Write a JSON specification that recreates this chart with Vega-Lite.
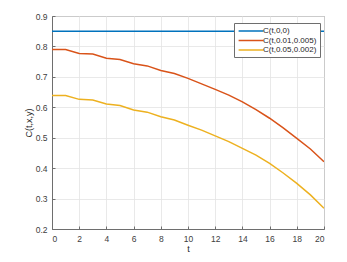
{
  "$schema": "https://vega.github.io/schema/vega-lite/v6.json",
  "width": 272,
  "height": 213,
  "autosize": {"type": "none"},
  "padding": {"left": 52, "top": 16, "right": 23, "bottom": 33},
  "background": "white",
  "config": {
    "font": "Liberation Sans",
    "view": {"stroke": "#6e6e6e", "strokeWidth": 1},
    "axis": {
      "labelFont": "Liberation Sans",
      "titleFont": "Liberation Sans",
      "labelFontSize": 8.5,
      "titleFontSize": 9,
      "labelColor": "#404040",
      "titleColor": "#262626",
      "titleFontWeight": "normal",
      "gridColor": "#e3e3e3",
      "gridWidth": 0.8,
      "domainColor": "#6e6e6e",
      "tickColor": "#6e6e6e",
      "tickSize": -3,
      "labelPadding": 8
    },
    "legend": {
      "labelFont": "Liberation Sans",
      "labelFontSize": 8,
      "labelColor": "#262626"
    }
  },
  "data": {
    "values": [
      {"t": 0, "s": "C(t,0,0)", "c": 0.85},
      {"t": 1, "s": "C(t,0,0)", "c": 0.85},
      {"t": 2, "s": "C(t,0,0)", "c": 0.85},
      {"t": 3, "s": "C(t,0,0)", "c": 0.85},
      {"t": 4, "s": "C(t,0,0)", "c": 0.85},
      {"t": 5, "s": "C(t,0,0)", "c": 0.85},
      {"t": 6, "s": "C(t,0,0)", "c": 0.85},
      {"t": 7, "s": "C(t,0,0)", "c": 0.85},
      {"t": 8, "s": "C(t,0,0)", "c": 0.85},
      {"t": 9, "s": "C(t,0,0)", "c": 0.85},
      {"t": 10, "s": "C(t,0,0)", "c": 0.85},
      {"t": 11, "s": "C(t,0,0)", "c": 0.85},
      {"t": 12, "s": "C(t,0,0)", "c": 0.85},
      {"t": 13, "s": "C(t,0,0)", "c": 0.85},
      {"t": 14, "s": "C(t,0,0)", "c": 0.85},
      {"t": 15, "s": "C(t,0,0)", "c": 0.85},
      {"t": 16, "s": "C(t,0,0)", "c": 0.85},
      {"t": 17, "s": "C(t,0,0)", "c": 0.85},
      {"t": 18, "s": "C(t,0,0)", "c": 0.85},
      {"t": 19, "s": "C(t,0,0)", "c": 0.85},
      {"t": 20, "s": "C(t,0,0)", "c": 0.85},
      {"t": 0, "s": "C(t,0.01,0.005)", "c": 0.79},
      {"t": 1, "s": "C(t,0.01,0.005)", "c": 0.79},
      {"t": 2, "s": "C(t,0.01,0.005)", "c": 0.777},
      {"t": 3, "s": "C(t,0.01,0.005)", "c": 0.775},
      {"t": 4, "s": "C(t,0.01,0.005)", "c": 0.761},
      {"t": 5, "s": "C(t,0.01,0.005)", "c": 0.757},
      {"t": 6, "s": "C(t,0.01,0.005)", "c": 0.743},
      {"t": 7, "s": "C(t,0.01,0.005)", "c": 0.736},
      {"t": 8, "s": "C(t,0.01,0.005)", "c": 0.721},
      {"t": 9, "s": "C(t,0.01,0.005)", "c": 0.711},
      {"t": 10, "s": "C(t,0.01,0.005)", "c": 0.695},
      {"t": 11, "s": "C(t,0.01,0.005)", "c": 0.677},
      {"t": 12, "s": "C(t,0.01,0.005)", "c": 0.659},
      {"t": 13, "s": "C(t,0.01,0.005)", "c": 0.64},
      {"t": 14, "s": "C(t,0.01,0.005)", "c": 0.618},
      {"t": 15, "s": "C(t,0.01,0.005)", "c": 0.592},
      {"t": 16, "s": "C(t,0.01,0.005)", "c": 0.564},
      {"t": 17, "s": "C(t,0.01,0.005)", "c": 0.532},
      {"t": 18, "s": "C(t,0.01,0.005)", "c": 0.498},
      {"t": 19, "s": "C(t,0.01,0.005)", "c": 0.463},
      {"t": 20, "s": "C(t,0.01,0.005)", "c": 0.421},
      {"t": 0, "s": "C(t,0.05,0.002)", "c": 0.639},
      {"t": 1, "s": "C(t,0.05,0.002)", "c": 0.639},
      {"t": 2, "s": "C(t,0.05,0.002)", "c": 0.626},
      {"t": 3, "s": "C(t,0.05,0.002)", "c": 0.624},
      {"t": 4, "s": "C(t,0.05,0.002)", "c": 0.611},
      {"t": 5, "s": "C(t,0.05,0.002)", "c": 0.606},
      {"t": 6, "s": "C(t,0.05,0.002)", "c": 0.591},
      {"t": 7, "s": "C(t,0.05,0.002)", "c": 0.584},
      {"t": 8, "s": "C(t,0.05,0.002)", "c": 0.569},
      {"t": 9, "s": "C(t,0.05,0.002)", "c": 0.558},
      {"t": 10, "s": "C(t,0.05,0.002)", "c": 0.541},
      {"t": 11, "s": "C(t,0.05,0.002)", "c": 0.525},
      {"t": 12, "s": "C(t,0.05,0.002)", "c": 0.506},
      {"t": 13, "s": "C(t,0.05,0.002)", "c": 0.487},
      {"t": 14, "s": "C(t,0.05,0.002)", "c": 0.465},
      {"t": 15, "s": "C(t,0.05,0.002)", "c": 0.443},
      {"t": 16, "s": "C(t,0.05,0.002)", "c": 0.416},
      {"t": 17, "s": "C(t,0.05,0.002)", "c": 0.384},
      {"t": 18, "s": "C(t,0.05,0.002)", "c": 0.35},
      {"t": 19, "s": "C(t,0.05,0.002)", "c": 0.312},
      {"t": 20, "s": "C(t,0.05,0.002)", "c": 0.268}
    ]
  },
  "mark": {"type": "line", "strokeWidth": 1.5, "clip": true},
  "encoding": {
    "x": {
      "field": "t", "type": "quantitative",
      "scale": {"domain": [0, 20], "nice": false},
      "axis": {"values": [0, 2, 4, 6, 8, 10, 12, 14, 16, 18, 20], "title": "t", "titlePadding": 2}
    },
    "y": {
      "field": "c", "type": "quantitative",
      "scale": {"domain": [0.2, 0.9], "nice": false, "zero": false},
      "axis": {"values": [0.2, 0.3, 0.4, 0.5, 0.6, 0.7, 0.8, 0.9], "format": ".1f", "title": "C(t,x,y)", "titlePadding": 2}
    },
    "color": {
      "field": "s", "type": "nominal",
      "scale": {
        "domain": ["C(t,0,0)", "C(t,0.01,0.005)", "C(t,0.05,0.002)"],
        "range": ["#0072BD", "#D95319", "#EDB120"]
      },
      "legend": {
        "title": null,
        "orient": "none",
        "legendX": 182,
        "legendY": 7,
        "symbolType": "M-3.1,0H3.1",
        "symbolSize": 64,
        "symbolStrokeWidth": 1.5,
        "symbolFillColor": "transparent",
        "symbolOffset": 9,
        "fillColor": "white",
        "strokeColor": "#6e6e6e",
        "padding": 3,
        "rowPadding": 0.5,
        "labelOffset": 7
      }
    }
  }
}
